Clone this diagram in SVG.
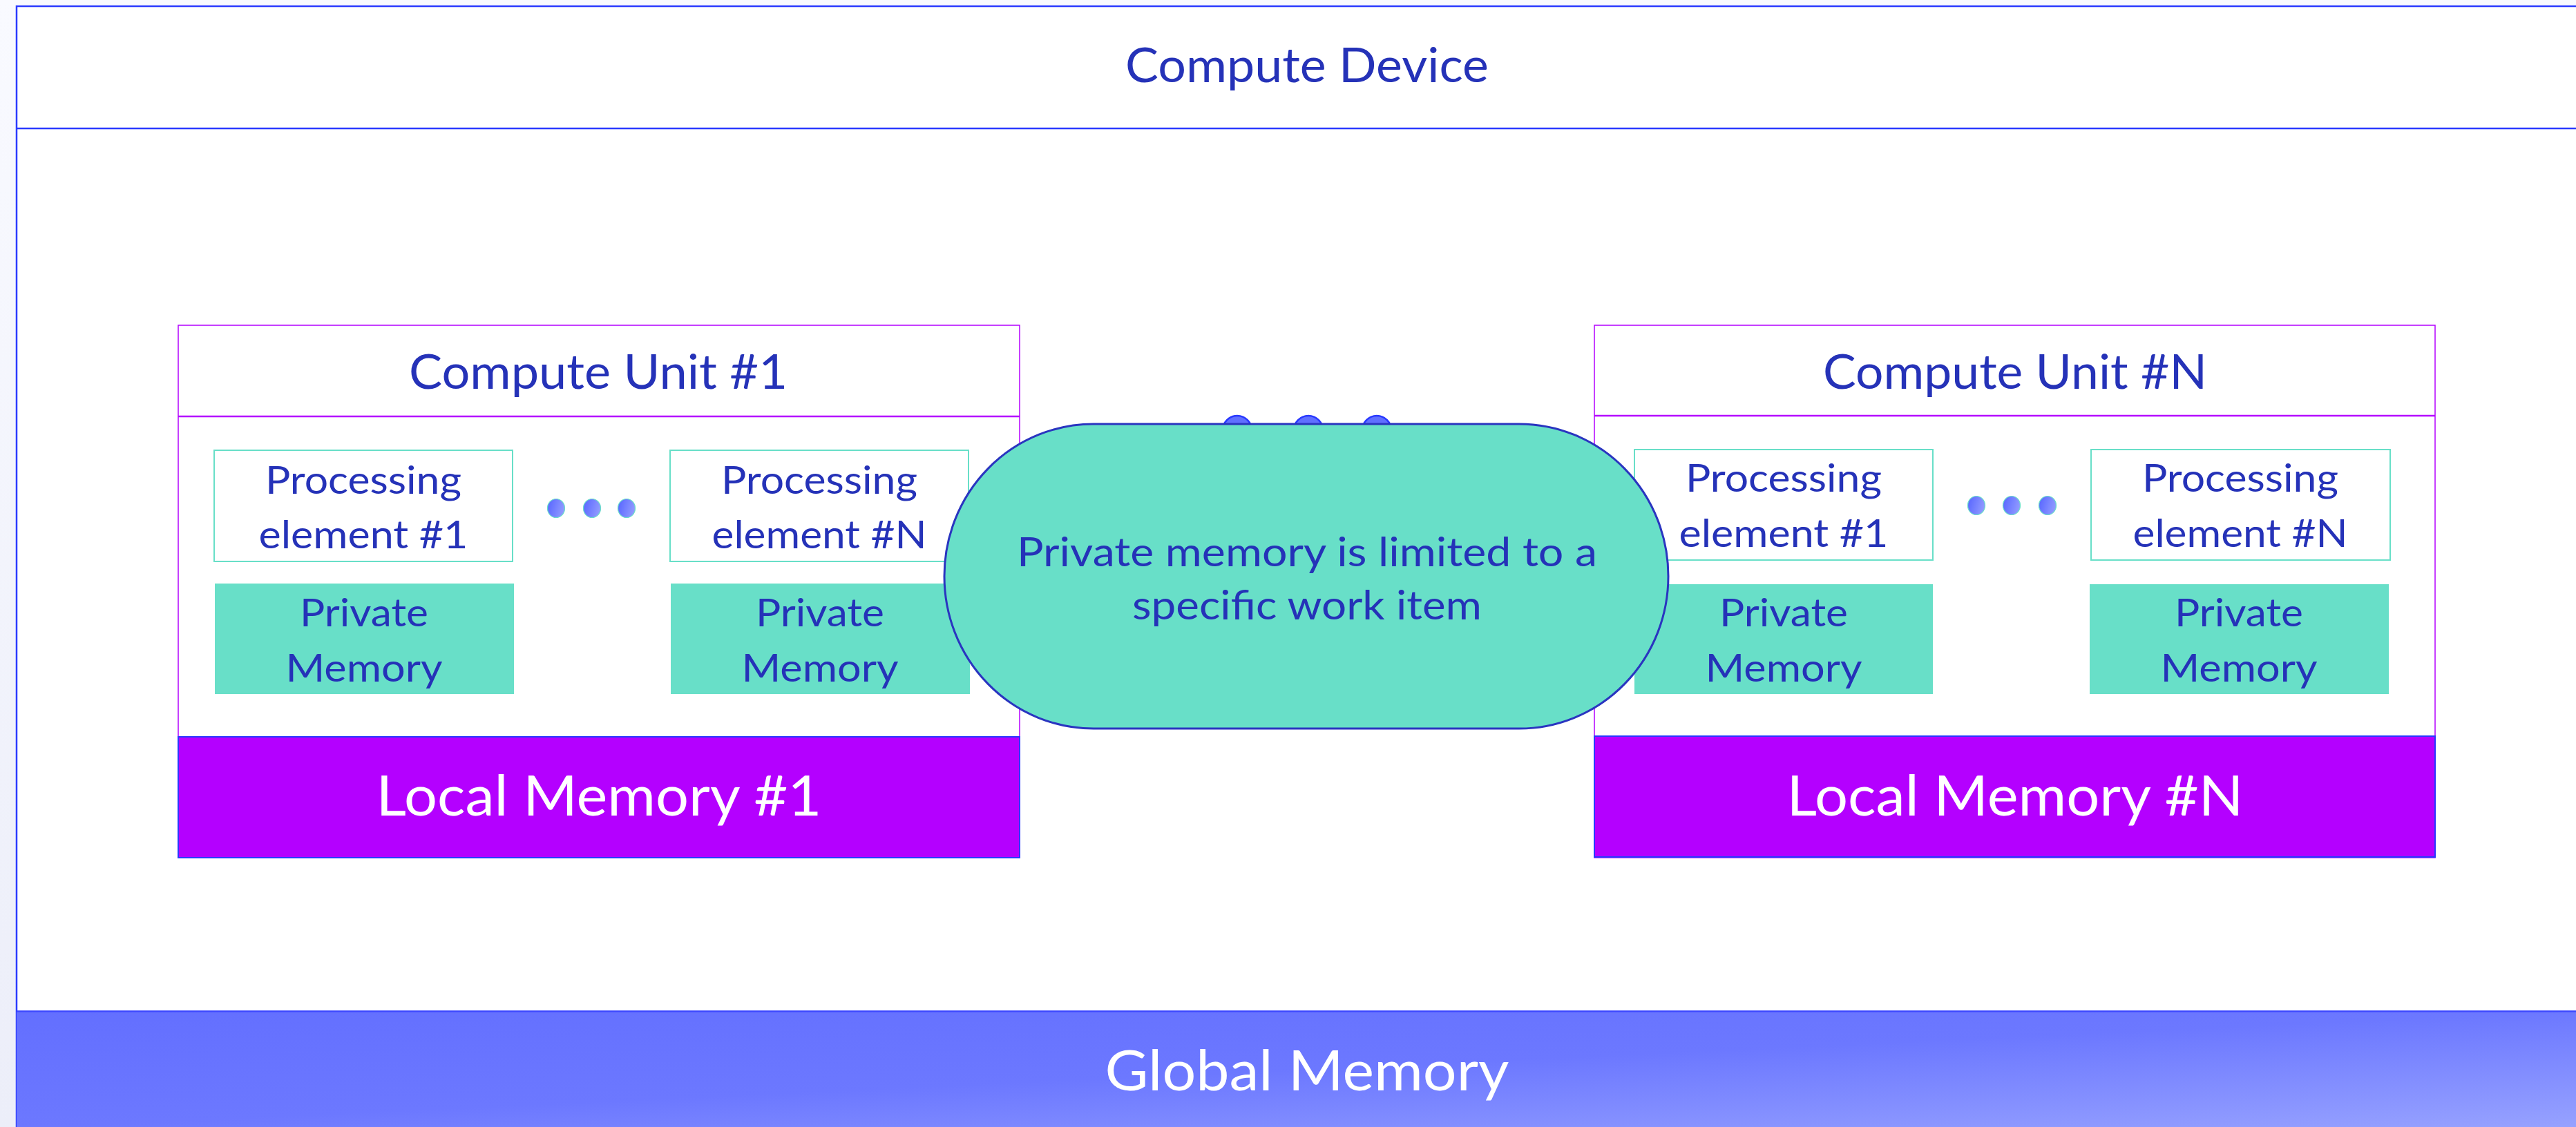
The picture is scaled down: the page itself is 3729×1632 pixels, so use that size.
<svg xmlns="http://www.w3.org/2000/svg" width="3729" height="1632" viewBox="0 0 3729 1632">
  <defs>
    <linearGradient id="pageBg" x1="0" y1="0" x2="0" y2="1">
      <stop offset="0" stop-color="#f9faff"/>
      <stop offset="1" stop-color="#eceef9"/>
    </linearGradient>
    <linearGradient id="globalFill" x1="0" y1="0" x2="1" y2="1">
      <stop offset="0" stop-color="#636fff"/>
      <stop offset="0.5" stop-color="#6c78ff"/>
      <stop offset="1" stop-color="#97a2ff"/>
    </linearGradient>
    <linearGradient id="dotFill" x1="0" y1="0" x2="1" y2="0.3">
      <stop offset="0" stop-color="#5564ff"/>
      <stop offset="1" stop-color="#8e98ff"/>
    </linearGradient>
    <style>
      .lbl { font-family: Lato, "Open Sans", "Liberation Sans", sans-serif; fill: #2532b8; text-anchor: middle; }
      .wlbl { font-family: Lato, "Open Sans", "Liberation Sans", sans-serif; fill: #ffffff; text-anchor: middle; }
      .cu { fill: #ffffff; stroke: #b400ff; stroke-width: 1.5; }
      .cuDiv { stroke: #b400ff; stroke-width: 2.5; }
      .local { fill: #b400ff; stroke: #2838ff; stroke-width: 2; }
      .pe { fill: #ffffff; stroke: #68dfc8; stroke-width: 2; }
      .pm { fill: #68dfc8; }
      .dot { fill: url(#dotFill); stroke: #68dfc8; stroke-width: 1.2; }
      .bigdot { fill: #6070ff; stroke: #2838ff; stroke-width: 2.5; }
    </style>
  </defs>

  <!-- page background -->
  <rect x="0" y="0" width="3729" height="1632" fill="url(#pageBg)"/>

  <!-- compute device frame -->
  <g id="compute-device">
    <rect x="24" y="9" width="3730" height="1640" fill="#ffffff" stroke="#2b3bff" stroke-width="2.5"/>
    <line x1="24" y1="186" x2="3729" y2="186" stroke="#2b3bff" stroke-width="2.5"/>
    <text class="lbl" x="1892" y="119" font-size="70" textLength="526" lengthAdjust="spacingAndGlyphs">Compute Device</text>
  </g>

  <!-- global memory band -->
  <g id="global-memory">
    <rect x="24" y="1464" width="3710" height="170" fill="url(#globalFill)"/>
    <line x1="24" y1="1464.5" x2="3729" y2="1464.5" stroke="#3f4aff" stroke-width="2.5"/>
    <text class="wlbl" x="1892" y="1579" font-size="82" textLength="585" lengthAdjust="spacingAndGlyphs">Global Memory</text>
  </g>

  <!-- compute unit #1 -->
  <g id="compute-unit-1">
    <rect class="cu" x="258" y="471" width="1218" height="771"/>
    <line class="cuDiv" x1="258" y1="603" x2="1476" y2="603"/>
    <text class="lbl" x="866" y="563" font-size="70" textLength="548" lengthAdjust="spacingAndGlyphs">Compute Unit #1</text>
  </g>
  <g id="cu1-pe-1">
    <rect class="pe" x="310" y="652" width="432" height="161"/>
    <text class="lbl" x="526" y="715" font-size="57" textLength="284" lengthAdjust="spacingAndGlyphs">Processing</text>
    <text class="lbl" x="526" y="794" font-size="57" textLength="303" lengthAdjust="spacingAndGlyphs">element #1</text>
  </g>
  <g id="cu1-pe-dots">
    <ellipse class="dot" cx="805" cy="736" rx="12.5" ry="13.5"/>
    <ellipse class="dot" cx="857" cy="736" rx="12.5" ry="13.5"/>
    <ellipse class="dot" cx="907" cy="736" rx="12.5" ry="13.5"/>
  </g>
  <g id="cu1-pe-n">
    <rect class="pe" x="970" y="652" width="432" height="161"/>
    <text class="lbl" x="1186" y="715" font-size="57" textLength="284" lengthAdjust="spacingAndGlyphs">Processing</text>
    <text class="lbl" x="1186" y="794" font-size="57" textLength="311" lengthAdjust="spacingAndGlyphs">element #N</text>
  </g>
  <g id="cu1-private-1">
    <rect class="pm" x="311" y="845" width="433" height="160"/>
    <text class="lbl" x="527" y="907" font-size="56" textLength="186" lengthAdjust="spacingAndGlyphs">Private</text>
    <text class="lbl" x="527" y="987" font-size="56" textLength="227" lengthAdjust="spacingAndGlyphs">Memory</text>
  </g>
  <g id="cu1-private-n">
    <rect class="pm" x="971" y="845" width="433" height="160"/>
    <text class="lbl" x="1187" y="907" font-size="56" textLength="186" lengthAdjust="spacingAndGlyphs">Private</text>
    <text class="lbl" x="1187" y="987" font-size="56" textLength="227" lengthAdjust="spacingAndGlyphs">Memory</text>
  </g>
  <g id="local-memory-1">
    <rect class="local" x="258" y="1067" width="1218" height="175"/>
    <text class="wlbl" x="867" y="1181" font-size="82" textLength="645" lengthAdjust="spacingAndGlyphs">Local Memory #1</text>
  </g>

  <!-- compute unit #N -->
  <g id="compute-unit-n">
    <rect class="cu" x="2308" y="471" width="1217" height="771"/>
    <line class="cuDiv" x1="2308" y1="602" x2="3525" y2="602"/>
    <text class="lbl" x="2917" y="563" font-size="70" textLength="556" lengthAdjust="spacingAndGlyphs">Compute Unit #N</text>
  </g>
  <g id="cun-pe-1">
    <rect class="pe" x="2366" y="651" width="432" height="160"/>
    <text class="lbl" x="2582" y="712" font-size="57" textLength="284" lengthAdjust="spacingAndGlyphs">Processing</text>
    <text class="lbl" x="2582" y="792" font-size="57" textLength="303" lengthAdjust="spacingAndGlyphs">element #1</text>
  </g>
  <g id="cun-pe-dots">
    <ellipse class="dot" cx="2861" cy="732" rx="12.5" ry="13.5"/>
    <ellipse class="dot" cx="2912" cy="732" rx="12.5" ry="13.5"/>
    <ellipse class="dot" cx="2964" cy="732" rx="12.5" ry="13.5"/>
  </g>
  <g id="cun-pe-n">
    <rect class="pe" x="3027" y="651" width="433" height="160"/>
    <text class="lbl" x="3243" y="712" font-size="57" textLength="284" lengthAdjust="spacingAndGlyphs">Processing</text>
    <text class="lbl" x="3243" y="792" font-size="57" textLength="311" lengthAdjust="spacingAndGlyphs">element #N</text>
  </g>
  <g id="cun-private-1">
    <rect class="pm" x="2366" y="846" width="432" height="159"/>
    <text class="lbl" x="2582" y="907" font-size="56" textLength="186" lengthAdjust="spacingAndGlyphs">Private</text>
    <text class="lbl" x="2582" y="987" font-size="56" textLength="227" lengthAdjust="spacingAndGlyphs">Memory</text>
  </g>
  <g id="cun-private-n">
    <rect class="pm" x="3025" y="846" width="433" height="159"/>
    <text class="lbl" x="3241" y="907" font-size="56" textLength="186" lengthAdjust="spacingAndGlyphs">Private</text>
    <text class="lbl" x="3241" y="987" font-size="56" textLength="227" lengthAdjust="spacingAndGlyphs">Memory</text>
  </g>
  <g id="local-memory-n">
    <rect class="local" x="2308" y="1066" width="1217" height="175"/>
    <text class="wlbl" x="2917" y="1181" font-size="82" textLength="661" lengthAdjust="spacingAndGlyphs">Local Memory #N</text>
  </g>

  <!-- ellipsis between compute units -->
  <g id="cu-dots">
    <circle class="bigdot" cx="1791" cy="623" r="21"/>
    <circle class="bigdot" cx="1894" cy="623" r="21"/>
    <circle class="bigdot" cx="1993" cy="623" r="21"/>
  </g>

  <!-- callout about private memory scope -->
  <g id="private-note">
    <rect x="1367" y="614" width="1048" height="441" rx="216" ry="220.5" fill="#68dfc8" stroke="#2a35c0" stroke-width="3"/>
    <text class="lbl" x="1892" y="820" font-size="58.5" textLength="840" lengthAdjust="spacingAndGlyphs">Private memory is limited to a</text>
    <text class="lbl" x="1892" y="897" font-size="58.5" textLength="506" lengthAdjust="spacingAndGlyphs">specific work item</text>
  </g>
</svg>
